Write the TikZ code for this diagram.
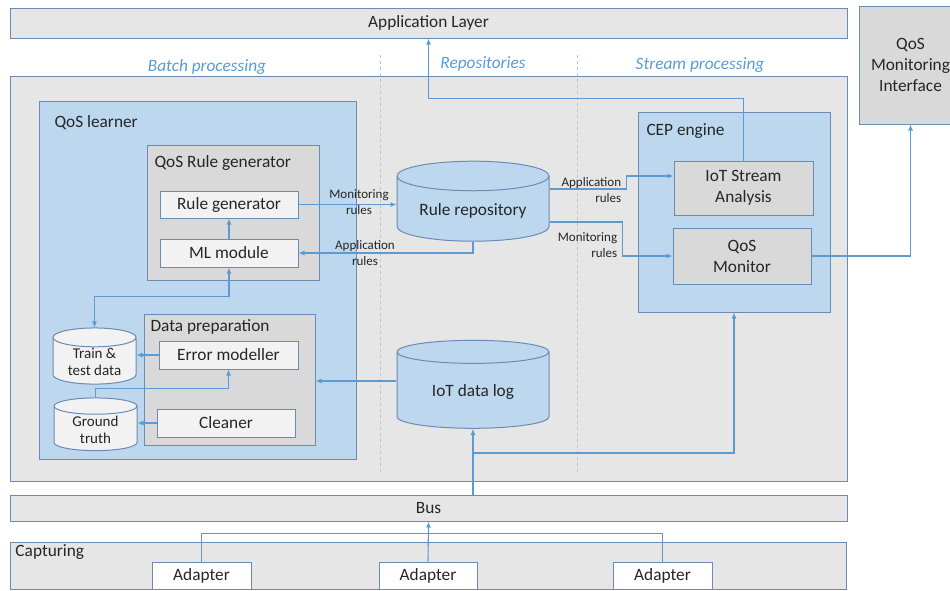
\documentclass[tikz,border=0pt]{standalone}
\usepackage{fontspec}
\setmainfont{Carlito}
\usetikzlibrary{shapes.geometric,arrows.meta}
\definecolor{framegray}{HTML}{6A8BB5}
\definecolor{areagray}{HTML}{E6E6E6}
\definecolor{innergray}{HTML}{D9D9D9}
\definecolor{learnblue}{HTML}{BDD7EE}
\definecolor{boxwhite}{HTML}{F2F2F2}
\definecolor{linkblue}{HTML}{5B9BD5}
\definecolor{dashblue}{HTML}{A9C8E8}

\begin{document}
\begin{tikzpicture}[x=1pt, y=-1pt, line width=1pt, text=black!85,
  font=\fontsize{17.3}{21}\selectfont,
  area/.style={rectangle, draw=framegray, fill=areagray, align=center},
  learnbox/.style={rectangle, draw=framegray, fill=learnblue},
  midbox/.style={rectangle, draw=framegray, fill=innergray, align=center},
  unitbox/.style={rectangle, draw=framegray, fill=boxwhite},
  adapterbox/.style={rectangle, draw=framegray, fill=white},
  store/.style={cylinder, shape border rotate=90, draw=framegray, fill=learnblue, aspect=0.26},
  smallstore/.style={cylinder, shape border rotate=90, draw=framegray, fill=boxwhite, aspect=0.34, align=center, font=\fontsize{15}{17}\selectfont},
  boxtitle/.style={anchor=west, inner sep=0pt},
  layer/.style={font=\fontsize{17.3}{21}\itshape, text=linkblue},
  rulelabel/.style={font=\fontsize{13}{16}\selectfont, align=center},
  link/.style={draw=linkblue, line width=1.1pt},
  conn/.style={link, -{Latex[length=6pt,width=5pt]}}]
\useasboundingbox (0,0) rectangle (950,590);

% Layers and areas
\node[area, minimum width=837, minimum height=30] (applayer) at (428.5, 23) {Application Layer};
\node[area, fill=innergray, minimum width=103, minimum height=118] (qosmi) at (910.5, 65) {QoS\\Monitoring\\Interface};
\node[area, minimum width=837, minimum height=405] (core) at (428.5, 278.5) {};
\node[area, minimum width=837, minimum height=26] (bus) at (428.5, 508) {Bus};
\node[area, minimum width=836, minimum height=47] (capt) at (428, 565.5) {};
\node[boxtitle] (capttitle) at (15, 552) {Capturing};

% Layer headers
\node[layer] (batch) at (207, 67) {Batch processing};
\node[layer] (repos) at (483, 64) {Repositories};
\node[layer] (stream) at (700, 65) {Stream processing};
\draw[dashblue, dashed, line width=0.8pt] (380, 55) -- (380, 475);
\draw[dashblue, dashed, line width=0.8pt] (577, 55) -- (577, 475);

% QoS learner
\node[learnbox, minimum width=317, minimum height=358] (learner) at (197.5, 280) {};
\node[boxtitle] (learnertitle) at (54, 123) {QoS learner};
\node[midbox, minimum width=172, minimum height=135] (qrg) at (233, 212.5) {};
\node[boxtitle] (qrgtitle) at (154, 163) {QoS Rule generator};
\node[unitbox, minimum width=138, minimum height=27] (rgen) at (229, 204.5) {Rule generator};
\node[unitbox, minimum width=138, minimum height=28] (ml) at (229, 253) {ML module};
\node[midbox, minimum width=171, minimum height=131] (prep) at (229.5, 379.5) {};
\node[boxtitle] (preptitle) at (150, 327) {Data preparation};
\node[unitbox, minimum width=139, minimum height=28] (errmod) at (228.5, 355) {Error modeller};
\node[unitbox, minimum width=138, minimum height=28] (cleaner) at (226, 423) {Cleaner};
\node[smallstore, minimum width=83, minimum height=49, inner sep=1pt] (train) at (94.5, 362) {Train \&\\test data};
\node[smallstore, minimum width=83, minimum height=50, inner sep=1pt] (ground) at (95.5, 429.5) {Ground\\truth};

% Repositories
\node[store, minimum width=152, minimum height=80] (rrepo) at (473, 211) {Rule repository};
\node[store, minimum width=152, minimum height=88] (iotlog) at (473, 392) {IoT data log};

% CEP engine
\node[learnbox, minimum width=192, minimum height=200] (cep) at (734, 212) {};
\node[boxtitle] (ceptitle) at (646, 131) {CEP engine};
\node[midbox, minimum width=139, minimum height=54] (iotsa) at (743.5, 188) {IoT Stream\\Analysis};
\node[midbox, minimum width=138, minimum height=56] (qosmon) at (742, 256) {QoS\\Monitor};

% Adapters
\node[adapterbox, minimum width=99, minimum height=27] (ad1) at (201.5, 575.5) {Adapter};
\node[adapterbox, minimum width=98, minimum height=27] (ad2) at (428, 575.5) {Adapter};
\node[adapterbox, minimum width=99, minimum height=27] (ad3) at (662.5, 575.5) {Adapter};

% Rule labels
\node[rulelabel] (monlbl) at (359, 202) {Monitoring\\rules};
\node[rulelabel] (applbl) at (365, 253) {Application\\rules};
\node[rulelabel, anchor=east, align=right] (applbl2) at (625, 190) {Application\\rules};
\node[rulelabel, anchor=east, align=right] (monlbl2) at (621, 245) {Monitoring\\rules};

% Connectors inside QoS learner
\draw[conn] (ml.north) -- (rgen.south);
\draw[conn, {Latex[length=6pt,width=5pt]}-{Latex[length=6pt,width=5pt]}] (train.north) -- ++(0,-31) -| (ml.south);
\draw[conn] (errmod.west) -- (errmod.west -| train.east);
\draw[conn] (cleaner.west) -- (cleaner.west -| ground.east);
\draw[conn] (ground.north) -- ++(0,-9) -| (errmod.south);

% Rules to and from the repository
\draw[conn] (rgen.east) -- (rgen.east -| rrepo.west);
\draw[conn] (rrepo.south) |- (ml.east);
\draw[conn] ([yshift=22pt]rrepo.east) -| ([xshift=-47pt,yshift=12pt]iotsa.west) -- ([yshift=12pt]iotsa.west);
\draw[conn] ([yshift=-11pt]rrepo.east) -| ([xshift=-50pt]qosmon.west) -- (qosmon.west);

% Outputs of the CEP engine
\draw[conn] (iotsa.north) -- ++(0,-62) -| (applayer.south);
\draw[conn] (qosmon.east) -| (qosmi.south);

% Data flow from the bus
\coordinate (busfork) at (473, 453);
\draw[conn] (iotlog.south |- bus.north) -- (iotlog.south);
\draw[conn] (busfork) -| (cep.south);
\draw[conn] ([yshift=11pt]iotlog.west) -- ([yshift=11pt]iotlog.west -| prep.east);
\draw[conn] (ad2.north) -- (bus.south);
\draw[link] (ad1.north) -- ++(0,-28) -| (ad3.north);
\end{tikzpicture}
\end{document}
